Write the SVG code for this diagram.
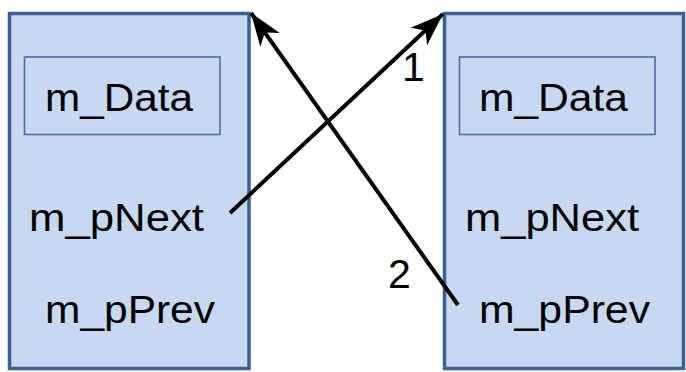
<svg xmlns="http://www.w3.org/2000/svg" width="686" height="372" viewBox="0 0 686 372">
  <style>
    .outer { fill: #C6D9F0; stroke: #3B6192; stroke-width: 3.5; }
    .inner { fill: #C6D9F0; stroke: #4570A4; stroke-width: 1.6; }
    .lbl { font-family: "Liberation Sans", Arial, sans-serif; font-size: 38px; fill: #000; }
    .num { font-family: "Liberation Sans", Arial, sans-serif; font-size: 41px; fill: #000; }
    .link { fill: none; stroke: #000; stroke-width: 4; }
  </style>
  <defs>
    <marker id="head" markerUnits="userSpaceOnUse" viewBox="-34 -14 36 28" refX="0" refY="0" markerWidth="36" markerHeight="28" orient="auto">
      <path d="M0,0 L-33,-12 L-24,0 L-33,12 Z" fill="#000"/>
    </marker>
  </defs>

  <!-- first list node -->
  <g id="node-left">
    <rect class="outer" x="9.5" y="13.5" width="239.5" height="355"/>
    <rect class="inner" x="24.5" y="57" width="195.5" height="77.5"/>
    <text class="lbl" x="45" y="111" textLength="148" lengthAdjust="spacingAndGlyphs">m_Data</text>
    <text class="lbl" x="29" y="231" textLength="175" lengthAdjust="spacingAndGlyphs">m_pNext</text>
    <text class="lbl" x="45" y="323" textLength="170" lengthAdjust="spacingAndGlyphs">m_pPrev</text>
  </g>

  <!-- second list node -->
  <g id="node-right">
    <rect class="outer" x="444.5" y="13.5" width="239" height="355"/>
    <rect class="inner" x="459.5" y="57" width="195.5" height="77.5"/>
    <text class="lbl" x="479" y="111" textLength="149" lengthAdjust="spacingAndGlyphs">m_Data</text>
    <text class="lbl" x="465" y="231" textLength="174" lengthAdjust="spacingAndGlyphs">m_pNext</text>
    <text class="lbl" x="479" y="323" textLength="171" lengthAdjust="spacingAndGlyphs">m_pPrev</text>
  </g>

  <!-- pointer links -->
  <g id="links">
    <line class="link" x1="230" y1="213" x2="443" y2="14" marker-end="url(#head)"/>
    <line class="link" x1="458" y1="305" x2="251" y2="13" marker-end="url(#head)"/>
    <text class="num" x="402" y="81">1</text>
    <text class="num" x="388" y="288">2</text>
  </g>
</svg>
